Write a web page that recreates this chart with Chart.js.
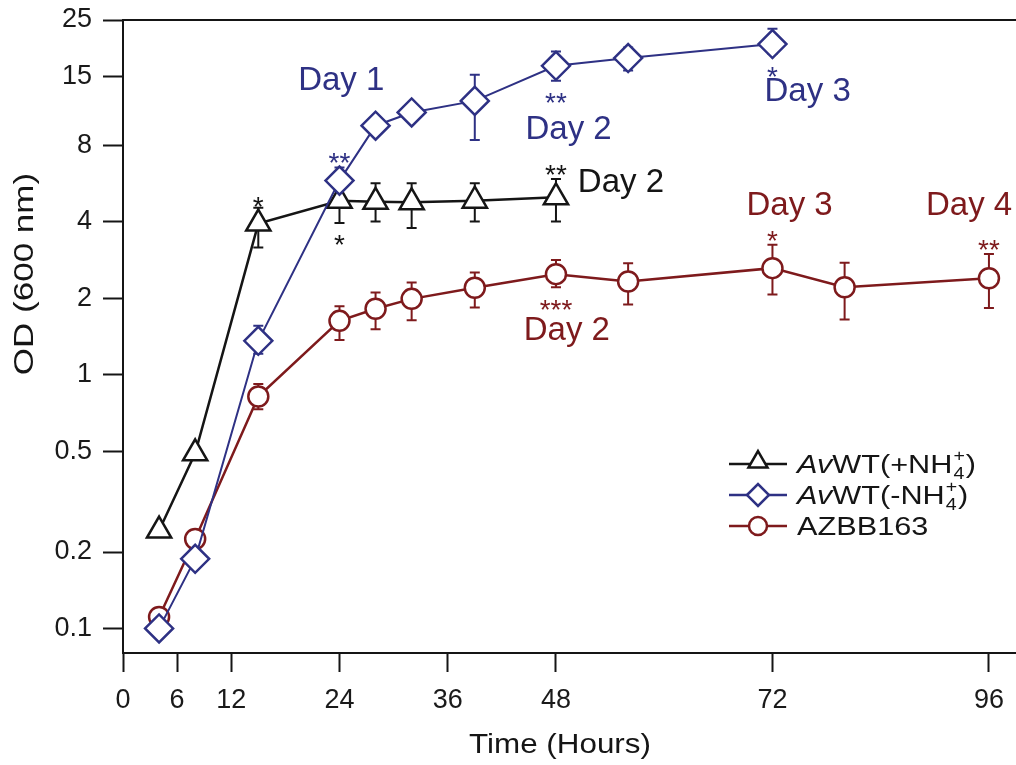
<!DOCTYPE html>
<html><head><meta charset="utf-8">
<script src="https://cdn.jsdelivr.net/npm/chart.js@4.4.1/dist/chart.umd.min.js"></script>
<style>html,body{margin:0;padding:0;background:#fff}#wrap{width:1016px;height:765px;position:relative}</style>
</head><body><div id="wrap"><canvas id="c" width="1016" height="765"></canvas></div>
<script>
// ---- data ----
const xTickValues = [0, 6, 12, 24, 36, 48, 72, 96];
const yTickValues = [0.1, 0.2, 0.5, 1, 2, 4, 8, 15, 25];
const yTickLabels = ['0.1', '0.2', '0.5', '1', '2', '4', '8', '15', '25'];

// AvWT(-NH4+)
const hoursMinus = [4, 8, 15, 24, 28, 32, 39, 48, 56, 72];
const odMinus    = [0.1, 0.188, 1.36, 5.82, 9.58, 10.8, 12.0, 16.5, 17.7, 20.1];
const odMinusLo  = [null, null, 1.21, 5.1, null, null, 8.41, 14.4, 15.8, 18.4];
const odMinusHi  = [null, null, 1.56, 6.56, null, null, 15.2, 18.8, 19.5, 23.1];

// AvWT(+NH4+)
const hoursPlus = [4, 8, 15, 24, 28, 32, 39, 48];
const odPlus    = [0.243, 0.49, 3.94, 4.85, 4.8, 4.78, 4.85, 5.0];
const odPlusLo  = [null, null, 3.17, 3.96, 4.02, 3.79, 4.02, 4.02];
const odPlusHi  = [null, null, 4.55, 5.7, 5.68, 5.68, 5.68, 5.91];

// AZBB163
const hoursAzbb = [4, 8, 15, 24, 28, 32, 39, 48, 56, 72, 80, 96];
const odAzbb    = [0.111, 0.225, 0.82, 1.63, 1.82, 1.99, 2.20, 2.49, 2.33, 2.63, 2.21, 2.40];
const odAzbbLo  = [null, null, 0.73, 1.37, 1.51, 1.64, 1.84, 2.21, 1.89, 2.07, 1.65, 1.83];
const odAzbbHi  = [null, null, 0.92, 1.86, 2.11, 2.31, 2.53, 2.83, 2.75, 3.25, 2.76, 2.99];

// ---- styles ----
const C_BLACK = '#151515', C_BLUE = '#2e3184', C_RED = '#7e1a1c';
const FONT = '"Liberation Sans", Arial, Helvetica, sans-serif';

// annotations: "Day" labels anchored in data space (time, OD) at text baseline
const dayNotes = [
  { text: 'Day 1', t: 24.2, od: 13.2, color: C_BLUE },
  { text: 'Day 2', t: 49.4, od: 8.5,  color: C_BLUE },
  { text: 'Day 3', t: 75.9, od: 12.0, color: C_BLUE },
  { text: 'Day 2', t: 55.2, od: 5.26, color: C_BLACK },
  { text: 'Day 2', t: 49.2, od: 1.37, color: C_RED },
  { text: 'Day 3', t: 73.9, od: 4.27, color: C_RED },
  { text: 'Day 4', t: 93.8, od: 4.27, color: C_RED }
];
// significance stars attached to a data point, shifted by dy px
const starNotes = [
  { text: '*',   set: 'plus',  t: 15, dy: -24 },
  { text: '**',  set: 'minus', t: 24, dy: -25 },
  { text: '*',   set: 'plus',  t: 24, dy: 37 },
  { text: '**',  set: 'minus', t: 48, dy: 30 },
  { text: '**',  set: 'plus',  t: 48, dy: -29 },
  { text: '***', set: 'azbb',  t: 48, dy: 29 },
  { text: '*',   set: 'minus', t: 72, dy: 26 },
  { text: '*',   set: 'azbb',  t: 72, dy: -34 },
  { text: '**',  set: 'azbb',  t: 96, dy: -35 }
];

const sets = {
  minus: { hours: hoursMinus, od: odMinus, lo: odMinusLo, hi: odMinusHi, color: C_BLUE,  style: 'rectRot',  r: 14,   lw: 2 },
  plus:  { hours: hoursPlus,  od: odPlus,  lo: odPlusLo,  hi: odPlusHi,  color: C_BLACK, style: 'triangle', r: 14,   lw: 2.5 },
  azbb:  { hours: hoursAzbb,  od: odAzbb,  lo: odAzbbLo,  hi: odAzbbHi,  color: C_RED,   style: 'circle',   r: 10,   lw: 2.5 }
};
const drawOrder = ['minus', 'plus', 'azbb']; // index 0 is drawn on top

const legendRows = [
  { set: 'plus',  parts: [['Av', 'i'], ['WT(+NH', ''], ['4|+', 'subsup'], [')', '']] },
  { set: 'minus', parts: [['Av', 'i'], ['WT(-NH', ''], ['4|+', 'subsup'], [')', '']] },
  { set: 'azbb',  parts: [['AZBB163', '']] }
];

const datasets = drawOrder.map(k => {
  const s = sets[k];
  return {
    label: k,
    data: s.hours.map((h, i) => ({ x: h, y: s.od[i] })),
    borderColor: s.color,
    backgroundColor: '#ffffff',
    borderWidth: s.lw,
    pointStyle: s.style,
    pointRadius: s.r,
    pointHoverRadius: s.r,
    pointBorderWidth: 2.5,
    pointBackgroundColor: '#ffffff',
    pointBorderColor: s.color,
    tension: 0,
    clip: false
  };
});

function stretchedText(ctx, txt, x, y, sx) {
  ctx.save();
  ctx.translate(x, y);
  ctx.scale(sx, 1);
  ctx.fillText(txt, 0, 0);
  ctx.restore();
  return ctx.measureText(txt).width * sx;
}

const decor = {
  id: 'decor',
  beforeDatasetsDraw(chart) {
    const ctx = chart.ctx, xs = chart.scales.x, ys = chart.scales.y;
    ctx.save();
    ctx.lineWidth = 2;
    for (const k of drawOrder.slice().reverse()) {
      const s = sets[k];
      ctx.strokeStyle = s.color;
      s.hours.forEach((h, i) => {
        if (s.lo[i] == null) return;
        const x = xs.getPixelForValue(h);
        const y1 = ys.getPixelForValue(s.hi[i]);
        const y2 = ys.getPixelForValue(s.lo[i]);
        ctx.beginPath();
        ctx.moveTo(x, y1); ctx.lineTo(x, y2);
        ctx.moveTo(x - 5, y1); ctx.lineTo(x + 5, y1);
        ctx.moveTo(x - 5, y2); ctx.lineTo(x + 5, y2);
        ctx.stroke();
      });
    }
    ctx.restore();
  },
  afterDraw(chart) {
    const ctx = chart.ctx, xs = chart.scales.x, ys = chart.scales.y, a = chart.chartArea;
    ctx.save();
    // top frame line
    ctx.strokeStyle = C_BLACK; ctx.lineWidth = 2;
    ctx.beginPath(); ctx.moveTo(a.left, a.top); ctx.lineTo(a.right, a.top); ctx.stroke();

    // axis titles
    ctx.fillStyle = C_BLACK;
    ctx.font = '28px ' + FONT;
    ctx.textAlign = 'center'; ctx.textBaseline = 'middle';
    stretchedText(ctx, 'Time (Hours)', 560, 745, 1.12);
    ctx.save();
    ctx.translate(25, 274); ctx.rotate(-Math.PI / 2);
    stretchedText(ctx, 'OD (600 nm)', 0, 0, 1.25);
    ctx.restore();

    // Day labels
    ctx.font = '33px ' + FONT;
    ctx.textBaseline = 'alphabetic';
    for (const n of dayNotes) {
      ctx.fillStyle = n.color;
      ctx.fillText(n.text, xs.getPixelForValue(n.t), ys.getPixelForValue(n.od));
    }
    // stars
    ctx.font = '28px ' + FONT;
    for (const n of starNotes) {
      const s = sets[n.set];
      const i = s.hours.indexOf(n.t);
      const x = xs.getPixelForValue(n.t), y = ys.getPixelForValue(s.od[i]) + n.dy;
      ctx.fillStyle = s.color;
      ctx.fillText(n.text, x, y + 16);
    }

    // legend
    const rowY = [464, 495, 526];
    legendRows.forEach((row, ri) => {
      const s = sets[row.set];
      const y = rowY[ri];
      ctx.strokeStyle = s.color; ctx.lineWidth = 2.5;
      ctx.beginPath(); ctx.moveTo(729, y); ctx.lineTo(787, y); ctx.stroke();
      ctx.fillStyle = '#ffffff'; ctx.strokeStyle = s.color;
      Chart.helpers.drawPoint(ctx, { pointStyle: s.style, radius: s.style === 'circle' ? 9 : 11, borderWidth: 2.5, rotation: 0 }, 758, s.style === 'triangle' ? y - 2 : y);
      ctx.fillStyle = C_BLACK;
      ctx.textAlign = 'left'; ctx.textBaseline = 'alphabetic';
      let x = 797;
      const base = y + 9;
      for (const [txt, kind] of row.parts) {
        if (kind === 'subsup') {
          const [sub, sup] = txt.split('|');
          ctx.font = '17px ' + FONT;
          stretchedText(ctx, sup, x + 1, base - 12, 1.15);
          stretchedText(ctx, sub, x + 1, base + 6, 1.15);
          x += Math.max(ctx.measureText(sub).width, ctx.measureText(sup).width) * 1.15 + 2;
        } else {
          ctx.font = (kind === 'i' ? 'italic ' : '') + '26px ' + FONT;
          x += stretchedText(ctx, txt, x, base, 1.18);
        }
      }
    });
    ctx.restore();
  }
};

new Chart(document.getElementById('c'), {
  type: 'line',
  data: { datasets },
  options: {
    responsive: false,
    animation: false,
    events: [],
    layout: { autoPadding: false, padding: { top: 20, right: 0, left: 0, bottom: 0 } },
    plugins: { legend: { display: false }, tooltip: { enabled: false } },
    scales: {
      x: {
        type: 'linear', min: 0, max: 99,
        afterBuildTicks: s => { s.ticks = xTickValues.map(v => ({ value: v })); },
        afterFit: s => { s.height = 112; s.paddingLeft = 0; s.paddingRight = 0; },
        grid: { drawOnChartArea: false, tickLength: 19, tickColor: C_BLACK, tickWidth: 2 },
        border: { color: C_BLACK, width: 2 },
        ticks: { color: '#1a1a1a', font: { family: FONT, size: 27 }, padding: 12, maxRotation: 0, autoSkip: false, callback: v => String(v) }
      },
      y: {
        type: 'logarithmic', min: 0.08, max: 25,
        afterBuildTicks: s => { s.ticks = yTickValues.map(v => ({ value: v })); },
        afterFit: s => { s.width = 123; s.paddingTop = 0; s.paddingBottom = 0; },
        grid: { drawOnChartArea: false, tickLength: 20, tickColor: C_BLACK, tickWidth: 2 },
        border: { color: C_BLACK, width: 2 },
        ticks: { color: '#1a1a1a', font: { family: FONT, size: 27 }, padding: 11, autoSkip: false, callback: (v, i) => yTickLabels[i] }
      }
    }
  },
  plugins: [decor]
});
</script></body></html>
